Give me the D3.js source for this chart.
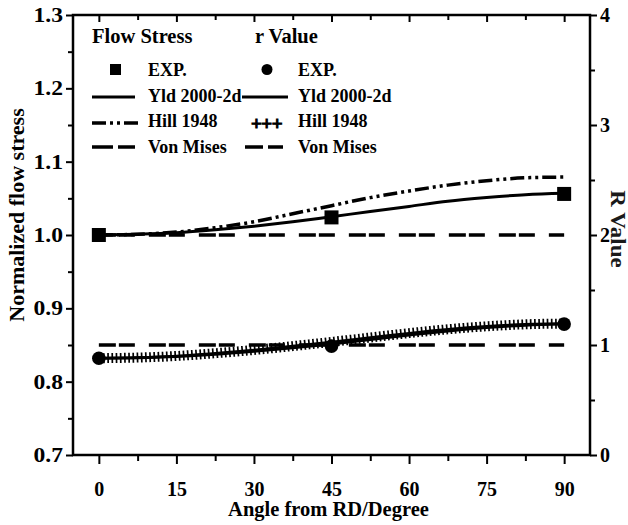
<!DOCTYPE html>
<html>
<head>
<meta charset="utf-8">
<script src="https://cdn.jsdelivr.net/npm/d3@7"></script>
<style>
  body { margin: 0; background: #fff; }
  svg text { font-family: "Liberation Serif", "Times New Roman", serif; font-weight: bold; fill: #000; }
</style>
</head>
<body>
<script>
// angles (deg from RD) for the model curves
const angles = [0, 7.5, 15, 22.5, 30, 37.5, 45, 52.5, 60, 67.5, 75, 82.5, 90];
// normalized flow stress
const yldStress  = [1.000, 1.001, 1.003, 1.007, 1.012, 1.018, 1.025, 1.032, 1.039, 1.046, 1.051, 1.055, 1.057];
const hillStress = [1.000, 1.001, 1.004, 1.010, 1.018, 1.029, 1.040, 1.051, 1.060, 1.068, 1.074, 1.078, 1.079];
// r value
const yldR  = [0.880, 0.884, 0.895, 0.915, 0.943, 0.975, 1.010, 1.050, 1.090, 1.128, 1.160, 1.180, 1.190];
const hillR = [0.880, 0.886, 0.900, 0.925, 0.955, 0.990, 1.028, 1.068, 1.108, 1.143, 1.170, 1.188, 1.195];
// von mises
const vmAngles = [0, 90];
const vmStress = [1.0, 1.0];
const vmR = [1.0, 1.0];
// experiments
const expAngles = [0, 45, 90];
const expStress = [1.000, 1.024, 1.056];
const expR = [0.88, 0.99, 1.19];

const xTicks = [0, 15, 30, 45, 60, 75, 90];
const xMinor = [7.5, 22.5, 37.5, 52.5, 67.5, 82.5];
const yTicks = [0.7, 0.8, 0.9, 1.0, 1.1, 1.2, 1.3];
const yMinor = [0.75, 0.85, 0.95, 1.05, 1.15, 1.25];
const rTicks = [0, 1, 2, 3, 4];
const rMinor = [0.5, 1.5, 2.5, 3.5];

var margin = {top: 15, right: 38, bottom: 70, left: 73},
    width = 628 - margin.left - margin.right,
    height = 525 - margin.top - margin.bottom;

const svg = d3.select("body")
  .append("svg")
  .attr("width", 628)
  .attr("height", 525)
  .append("g")
  .attr("transform", "translate(" + margin.left + "," + margin.top + ")");

const x = d3.scaleLinear().domain([-5, 95]).range([0, width]);
const yL = d3.scaleLinear().domain([0.7, 1.3]).range([height, 0]);
const yR = d3.scaleLinear().domain([0, 4]).range([height, 0]);

function styleAxis(g, size) {
  g.select(".domain").remove();
  g.selectAll(".tick line").attr("stroke", "#000").attr("stroke-width", 2);
  g.selectAll(".tick text").style("font-size", size + "px");
}
// widen text a bit, the original figure is stretched sideways
function stretch(sel, k) {
  sel.each(function() {
    const w = this.getComputedTextLength();
    d3.select(this).attr("textLength", w * k).attr("lengthAdjust", "spacingAndGlyphs");
  });
}

// bottom axis
svg.append("g").attr("transform", "translate(0," + height + ")")
  .call(d3.axisBottom(x).tickValues(xTicks).tickSize(9).tickPadding(18).tickFormat(d3.format("d")))
  .call(g => styleAxis(g, 20));
svg.append("g").attr("transform", "translate(0," + height + ")")
  .call(d3.axisBottom(x).tickValues(xMinor).tickSize(6).tickFormat(""))
  .call(g => styleAxis(g, 20));
// top ticks (inside)
svg.append("g")
  .call(d3.axisBottom(x).tickValues(xTicks).tickSize(7).tickFormat(""))
  .call(g => styleAxis(g, 20));
svg.append("g")
  .call(d3.axisBottom(x).tickValues(xMinor).tickSize(5).tickFormat(""))
  .call(g => styleAxis(g, 20));

// left axis
svg.append("g")
  .call(d3.axisLeft(yL).tickValues(yTicks).tickSize(7).tickPadding(3).tickFormat(d3.format(".1f")))
  .call(g => styleAxis(g, 20))
  .call(g => stretch(g.selectAll(".tick text"), 1.18));
svg.append("g")
  .call(d3.axisLeft(yL).tickValues(yMinor).tickSize(5).tickFormat(""))
  .call(g => styleAxis(g, 20));

// right axis
svg.append("g").attr("transform", "translate(" + width + ",0)")
  .call(d3.axisRight(yR).tickValues(rTicks).tickSize(7).tickPadding(3).tickFormat(d3.format("d")))
  .call(g => styleAxis(g, 20));
svg.append("g").attr("transform", "translate(" + width + ",0)")
  .call(d3.axisRight(yR).tickValues(rMinor).tickSize(5).tickFormat(""))
  .call(g => styleAxis(g, 20));

// frame
svg.append("rect")
  .attr("width", width).attr("height", height)
  .attr("fill", "none").attr("stroke", "#000").attr("stroke-width", 2.5);

// axis titles
svg.append("text")
  .attr("x", width / 2 - 3).attr("y", height + 61)
  .attr("text-anchor", "middle")
  .style("font-size", "20.5px")
  .text("Angle from RD/Degree");

svg.append("text")
  .attr("transform", "translate(" + (24 - margin.left) + "," + 200 + ") rotate(-90)")
  .attr("text-anchor", "middle")
  .style("font-size", "22px")
  .text("Normalized flow stress");

svg.append("text")
  .attr("transform", "translate(" + (611 - margin.left) + "," + 214 + ") rotate(90)")
  .attr("text-anchor", "middle")
  .style("font-size", "20px")
  .style("fill", "#1a1a1a")
  .text("R Value")
  .call(t => stretch(t, 1.15));

// lines
const lineL = d3.line().x(d => x(d[0])).y(d => yL(d[1])).curve(d3.curveMonotoneX);
const lineR = d3.line().x(d => x(d[0])).y(d => yR(d[1])).curve(d3.curveMonotoneX);
const zip = (a, b) => a.map((v, i) => [v, b[i]]);

const DASH = "17,3,16,14";
const DASHDOT = "14,4,3,4,3,4";

// von mises
svg.append("path").attr("d", lineL(zip(vmAngles, vmStress)))
  .attr("fill", "none").attr("stroke", "#000").attr("stroke-width", 3.5).attr("stroke-dasharray", DASH);
svg.append("path").attr("d", lineR(zip(vmAngles, vmR)))
  .attr("fill", "none").attr("stroke", "#000").attr("stroke-width", 3.5).attr("stroke-dasharray", DASH);

// yld 2000-2d
svg.append("path").attr("d", lineL(zip(angles, yldStress)))
  .attr("fill", "none").attr("stroke", "#000").attr("stroke-width", 3);
svg.append("path").attr("d", lineR(zip(angles, yldR)))
  .attr("fill", "none").attr("stroke", "#000").attr("stroke-width", 3);

// hill 1948
svg.append("path").attr("d", lineL(zip(angles, hillStress)))
  .attr("fill", "none").attr("stroke", "#000").attr("stroke-width", 3.5).attr("stroke-dasharray", DASHDOT);
svg.append("path").attr("d", lineR(zip(angles, hillR)))
  .attr("fill", "none").attr("stroke", "#000").attr("stroke-width", 2.5);
svg.append("path").attr("d", lineR(zip(angles, hillR)))
  .attr("fill", "none").attr("stroke", "#000").attr("stroke-width", 10).attr("stroke-dasharray", "1.7,2.5");

// experiments
svg.selectAll(".expS")
  .data(zip(expAngles, expStress))
  .enter().append("rect")
  .attr("x", d => x(d[0]) - 7).attr("y", d => yL(d[1]) - 7)
  .attr("width", 14).attr("height", 14).attr("fill", "#000");
svg.selectAll(".expR")
  .data(zip(expAngles, expR))
  .enter().append("circle")
  .attr("cx", d => x(d[0])).attr("cy", d => yR(d[1]))
  .attr("r", 6.8).attr("fill", "#000");

// legend
const leg = svg.append("g").attr("transform", "translate(" + (-margin.left) + "," + (-margin.top) + ")");
leg.append("text").attr("x", 92).attr("y", 43).style("font-size", "20.5px").text("Flow Stress");
leg.append("text").attr("x", 255).attr("y", 43).style("font-size", "20.5px").text("r Value");

const rows = [
  {y: 76, label: "EXP."},
  {y: 101.5, label: "Yld 2000-2d"},
  {y: 127, label: "Hill 1948"},
  {y: 152.5, label: "Von Mises"}
];
rows.forEach(r => {
  leg.append("text").attr("x", 148).attr("y", r.y).style("font-size", "18px").text(r.label);
  leg.append("text").attr("x", 298).attr("y", r.y).style("font-size", "18px").text(r.label);
});

leg.append("rect").attr("x", 110).attr("y", 64).attr("width", 11).attr("height", 11).attr("fill", "#000");
leg.append("circle").attr("cx", 267).attr("cy", 69.5).attr("r", 5.5).attr("fill", "#000");

leg.append("line").attr("x1", 92).attr("x2", 135).attr("y1", 97).attr("y2", 97)
  .attr("stroke", "#000").attr("stroke-width", 3);
leg.append("line").attr("x1", 242).attr("x2", 288).attr("y1", 97).attr("y2", 97)
  .attr("stroke", "#000").attr("stroke-width", 3);
leg.append("line").attr("x1", 92).attr("x2", 138).attr("y1", 123).attr("y2", 123)
  .attr("stroke", "#000").attr("stroke-width", 3.5).attr("stroke-dasharray", DASHDOT);
leg.append("text").attr("x", 266.5).attr("y", 130).attr("text-anchor", "middle")
  .style("font-size", "19px").style("stroke", "#000").style("stroke-width", 1.1)
  .attr("letter-spacing", -0.5)
  .text("+++");
leg.append("line").attr("x1", 92).attr("x2", 135).attr("y1", 147).attr("y2", 147)
  .attr("stroke", "#000").attr("stroke-width", 3.5).attr("stroke-dasharray", "21,5,17");
leg.append("line").attr("x1", 245).attr("x2", 283).attr("y1", 147).attr("y2", 147)
  .attr("stroke", "#000").attr("stroke-width", 3.5).attr("stroke-dasharray", "18,5,15");
</script>
</body>
</html>
